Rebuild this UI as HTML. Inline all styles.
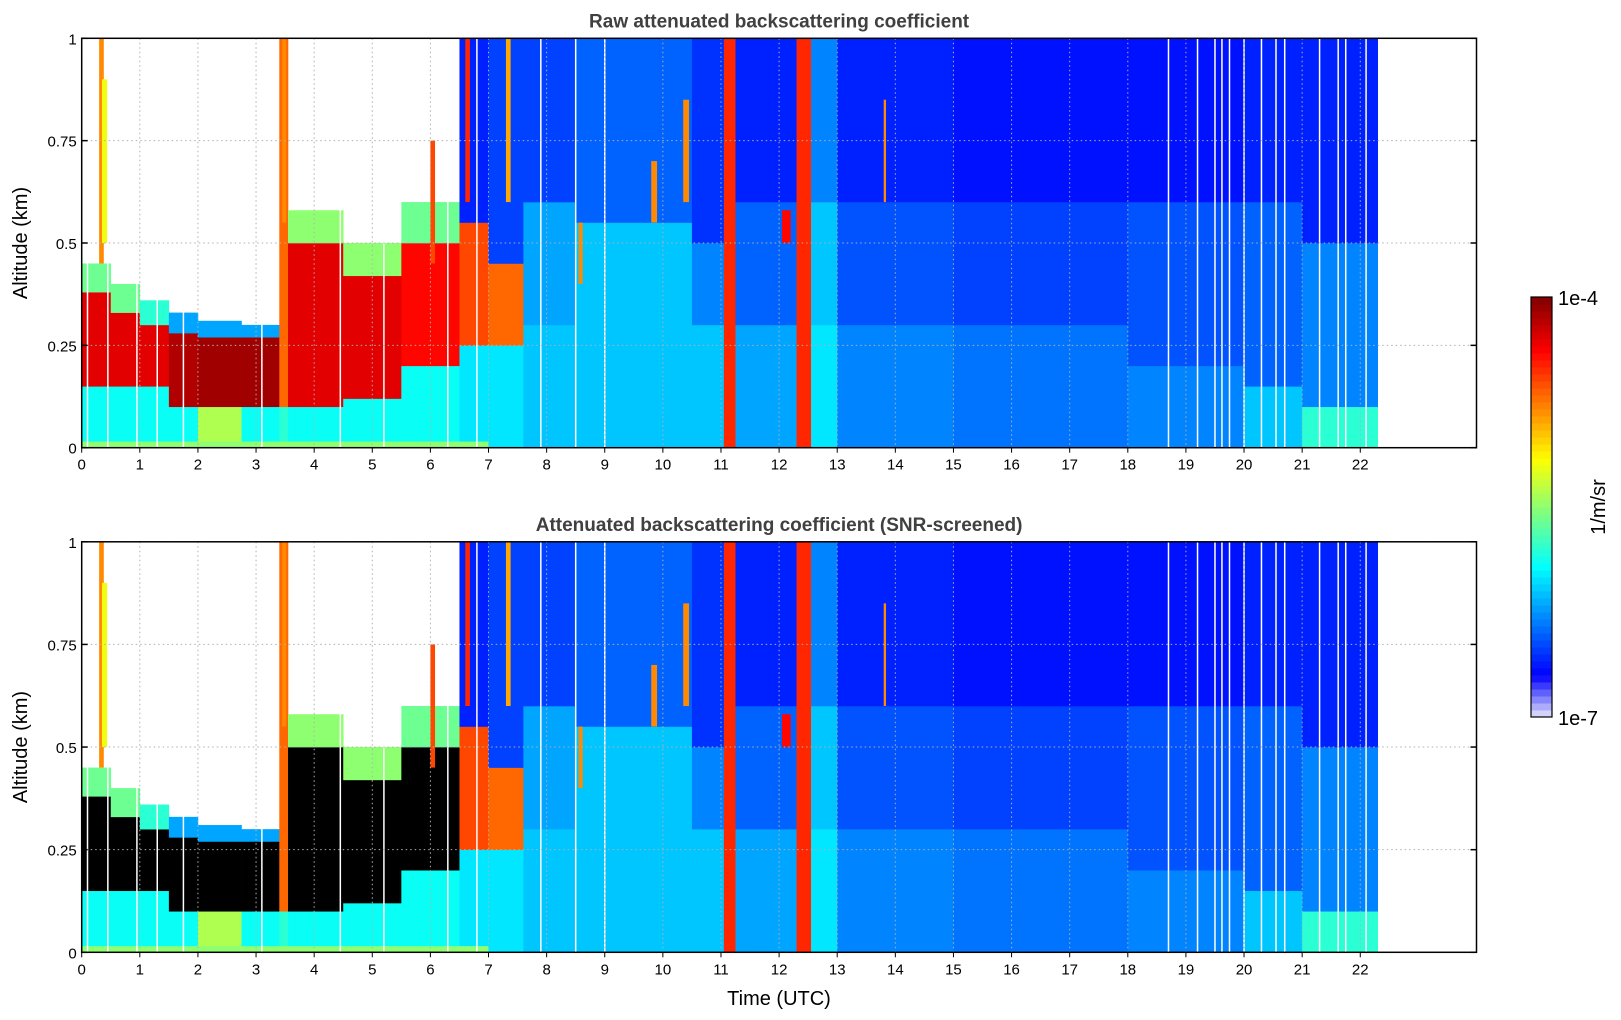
<!DOCTYPE html>
<html><head><meta charset="utf-8"><style>
body{margin:0;background:#fff;}
svg{display:block;font-family:"Liberation Sans","DejaVu Sans",sans-serif;}
</style></head><body>
<svg id="chart" width="1621" height="1020" xmlns="http://www.w3.org/2000/svg"></svg>
<script>
// ---- data (log10 of backscatter, 1/m/sr) ----
const segStart = [0,0.5,1.0,1.5,2.0,2.75,3.4,3.55,4.5,5.5,6.5,7.0,7.6,8.5,10.5,11.05,11.25,12.3,12.55,13,15,18,20,21];
const segEnd   = [0.5,1.0,1.5,2.0,2.75,3.4,3.55,4.5,5.5,6.5,7.0,7.6,8.5,10.5,11.05,11.25,12.3,12.55,13,15,18,20,21,22.3];
const lowTop   = [0.15,0.15,0.15,0.1,0.1,0.1,0.1,0.1,0.12,0.2,0.25,0.25,0.3,0.3,0.3,1,0.3,1,0.3,0.3,0.3,0.2,0.15,0.1];
const lowVal   = [-5.9,-5.9,-5.9,-5.9,-5.4,-5.9,-5.8,-5.9,-5.9,-5.9,-6.0,-6.0,-6.1,-6.1,-6.1,-4.5,-6.2,-4.5,-6.0,-6.3,-6.35,-6.3,-6.1,-5.8];
const layTop   = [0.38,0.33,0.3,0.28,0.27,0.27,1,0.5,0.42,0.5,0.55,0.45,0.6,0.55,0.5,1,0.6,1,0.6,0.6,0.6,0.6,0.6,0.5];
const layVal   = [-4.3,-4.3,-4.3,-4.15,-4.1,-4.1,-4.7,-4.3,-4.3,-4.4,-4.6,-4.7,-6.2,-6.1,-6.3,-4.5,-6.4,-4.5,-6.1,-6.45,-6.5,-6.45,-6.4,-6.3];
const layVal2  = [-3.8,-3.8,-3.8,-3.8,-3.8,-3.8,-4.7,-3.8,-3.8,-3.9,-4.6,-4.7,-6.2,-6.1,-6.3,-4.5,-6.4,-4.5,-6.1,-6.45,-6.5,-6.45,-6.4,-6.3];
const upTop    = [0.45,0.4,0.36,0.33,0.31,0.3,1,0.58,0.5,0.6,1,1,1,1,1,1,1,1,1,1,1,1,1,1];
const upVal    = [-5.6,-5.6,-5.8,-6.2,-6.2,-6.2,-4.7,-5.5,-5.5,-5.6,-6.6,-6.5,-6.5,-6.4,-6.55,-4.5,-6.6,-4.5,-6.3,-6.6,-6.65,-6.65,-6.6,-6.6];
// blobs: start time, end time, bottom alt, top alt, value
const blobT0 = [0.3,6.6,8.55,9.8,10.35,12.05,13.8,7.3,6.0,3.45,0.35];
const blobT1 = [0.38,6.68,8.62,9.9,10.45,12.2,13.84,7.38,6.08,3.52,0.45];
const blobA0 = [0.45,0.6,0.4,0.55,0.6,0.5,0.6,0.6,0.45,0.55,0.5];
const blobA1 = [1.0,1.0,0.55,0.7,0.85,0.58,0.85,1.0,0.75,1.0,0.9];
const blobV  = [-4.8,-4.5,-4.8,-4.8,-4.8,-4.4,-4.8,-4.9,-4.6,-4.8,-5.2];
// data gaps (white vertical lines), hours
const gapTimes = [0.1,0.45,0.95,1.3,1.75,3.1,4.45,5.2,6.3,6.8,7.9,8.5,9.0,18.7,19.2,19.5,19.62,19.75,20.0,20.3,20.55,20.7,21.3,21.62,21.75,22.1];
const xTicks = [0,1,2,3,4,5,6,7,8,9,10,11,12,13,14,15,16,17,18,19,20,21,22];
const yTicks = [0,0.25,0.5,0.75,1];
const yTickLabels = ["0","0.25","0.5","0.75","1"];

const NS="http://www.w3.org/2000/svg";
const svg=document.getElementById('chart');
function mk(tag,attrs,parent){const e=document.createElementNS(NS,tag);for(const k in attrs)e.setAttribute(k,attrs[k]);(parent||svg).appendChild(e);return e;}
function clamp(v){return Math.max(0,Math.min(1,v));}
function color(v){
  if(v>-4) return '#000';
  let t=(v+7)/3; t=clamp(t);
  if(t<0.1){const f=t/0.1;return `rgb(${Math.round(230*(1-f))},${Math.round(230*(1-f))},${Math.round(250+5*f)})`;}
  const x=0.125+(t-0.1)/0.9*0.875;
  const r=clamp(1.5-Math.abs(4*x-3)),g=clamp(1.5-Math.abs(4*x-2)),b=clamp(1.5-Math.abs(4*x-1));
  return `rgb(${Math.round(r*255)},${Math.round(g*255)},${Math.round(b*255)})`;
}
const X0=81.7,X1=1476.5;
const xs=h=>X0+(h/24)*(X1-X0);

function panel(top,bottom,layArr,title,pname,showXLabel){
  const g=mk('g',{});
  
  
  const ys=a=>bottom-a*(bottom-top);
  for(let i=0;i<segStart.length;i++){
    const x=xs(segStart[i]),w=xs(segEnd[i])-x+0.3;
    const bands=[[0,lowTop[i],lowVal[i]],[lowTop[i],layTop[i],layArr[i]],[layTop[i],upTop[i],upVal[i]]];
    bands.forEach(b=>{ if(b[1]>b[0]){
      const r=mk('rect',{x:x,y:ys(b[1]),width:w,height:ys(b[0])-ys(b[1])+0.3,fill:color(b[2])},g);
      
      
    }});
  }
  for(let i=0;i<blobT0.length;i++){
    const r=mk('rect',{x:xs(blobT0[i]),y:ys(blobA1[i]),width:xs(blobT1[i])-xs(blobT0[i]),height:ys(blobA0[i])-ys(blobA1[i]),fill:color(blobV[i])},g);
    
    
  }
  const s=mk('rect',{x:xs(0),y:ys(0.015),width:xs(7)-xs(0),height:ys(0)-ys(0.015),fill:color(-5.5)},g);
  
  
  gapTimes.forEach(t=>{
    const l=mk('line',{x1:xs(t),x2:xs(t),y1:top,y2:bottom,stroke:'#fff','stroke-width':1.5},g);
    
    
  });
  xTicks.forEach(h=>{
    const l=mk('line',{x1:xs(h),x2:xs(h),y1:top,y2:bottom,stroke:'#b0b0b0','stroke-width':1,'stroke-dasharray':'1.5,3'},g);
    
    
    const tk=mk('line',{x1:xs(h),x2:xs(h),y1:bottom,y2:bottom+5,stroke:'#000','stroke-width':1},g);
    
    
    const tx=mk('text',{x:xs(h),y:bottom+22,'text-anchor':'middle','font-size':15,fill:'#000'},g);
    
    
    tx.textContent=h;
  });
  yTicks.forEach((a,i)=>{
    const l=mk('line',{x1:X0,x2:X1,y1:ys(a),y2:ys(a),stroke:'#b0b0b0','stroke-width':1,'stroke-dasharray':'1.5,3'},g);
    
    
    mk('line',{x1:X0,x2:X0+6,y1:ys(a),y2:ys(a),stroke:'#000','stroke-width':1.5},g);
    mk('line',{x1:X1-6,x2:X1,y1:ys(a),y2:ys(a),stroke:'#000','stroke-width':1.5},g);
    const tx=mk('text',{x:X0-5,y:ys(a)+6,'text-anchor':'end','font-size':15,fill:'#000'},g);
    
    
    tx.textContent=yTickLabels[i];
  });
  const fr=mk('rect',{x:X0,y:top,width:X1-X0,height:bottom-top,fill:'none',stroke:'#000','stroke-width':1.5},g);
  
  
  const tt=mk('text',{x:(X0+X1)/2,y:top-11,'text-anchor':'middle','font-size':19,'font-weight':'bold',fill:'#404040'},g);
  
  
  tt.textContent=title;
  const yl=mk('text',{x:0,y:0,'text-anchor':'middle','font-size':20,fill:'#000',transform:`translate(27,${(top+bottom)/2}) rotate(-90)`},g);
  
  
  yl.textContent='Altitude (km)';
  if(showXLabel){
    const xl=mk('text',{x:779,y:1005,'text-anchor':'middle','font-size':20,fill:'#000'},g);
    
    
    xl.textContent='Time (UTC)';
  }
}
panel(38.3,447.7,layVal,'Raw attenuated backscattering coefficient','raw-panel',false);
panel(541.8,952.3,layVal2,'Attenuated backscattering coefficient (SNR-screened)','screened-panel',true);

const cb=mk('g',{});


const CBT=297,CBB=717,N=60;
for(let i=0;i<N;i++){
  const v=-7+3*(i+0.5)/N;
  mk('rect',{x:1531,y:CBB-(i+1)*(CBB-CBT)/N,width:21,height:(CBB-CBT)/N+0.5,fill:color(v)},cb);
}
mk('rect',{x:1531,y:CBT,width:21,height:CBB-CBT,fill:'none',stroke:'#000','stroke-width':1.2},cb);
const l1=mk('text',{x:1558,y:305,'font-size':20,fill:'#000'},cb);l1.textContent='1e-4';

const l2=mk('text',{x:1558,y:725,'font-size':20,fill:'#000'},cb);l2.textContent='1e-7';

const l3=mk('text',{x:0,y:0,'text-anchor':'middle','font-size':20,fill:'#000',transform:'translate(1605,507) rotate(-90)'},cb);l3.textContent='1/m/sr';

</script>
</body></html>
